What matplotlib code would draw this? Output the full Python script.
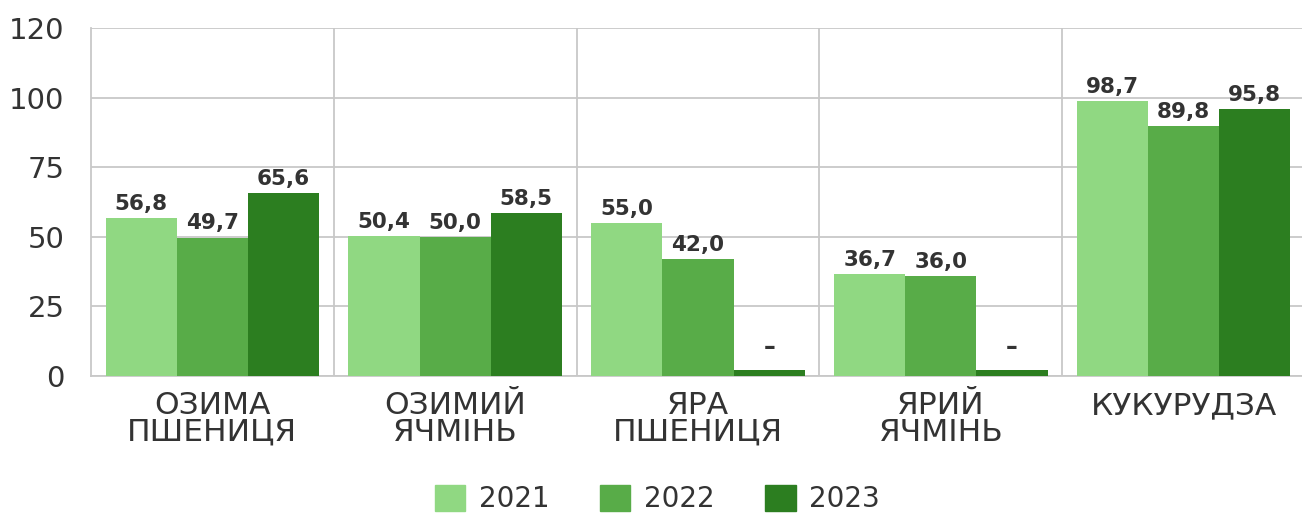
import matplotlib.pyplot as plt
import numpy as np
from matplotlib.patches import Patch

# дані з графіка
categories = ['ОЗИМА\nПШЕНИЦЯ', 'ОЗИМИЙ\nЯЧМІНЬ', 'ЯРА\nПШЕНИЦЯ', 'ЯРИЙ\nЯЧМІНЬ', 'КУКУРУДЗА']
years = ['2021', '2022', '2023']
values_2021 = [56.8, 50.4, 55.0, 36.7, 98.7]
values_2022 = [49.7, 50.0, 42.0, 36.0, 89.8]
values_2023 = [65.6, 58.5, None, None, 95.8]
y_ticks = [0, 25, 50, 75, 100, 125]
y_tick_labels = ['0', '25', '50', '75', '100', '120']

colors = ['#90D882', '#58AC48', '#2C7E20']
stub = 2.0  # висота смужки для відсутніх даних

plt.rcParams['font.family'] = ['DejaVu Sans']

fig = plt.figure(figsize=(13.02, 5.13), dpi=100)
ax = fig.add_axes([91 / 1302, 1 - 376 / 513, (1305 - 91) / 1302, (376 - 28) / 513])

x = np.arange(len(categories))
w = 0.293
series = [values_2021, values_2022, values_2023]
for i, vals in enumerate(series):
    heights = [v if v is not None else stub for v in vals]
    bars = ax.bar(x + (i - 1) * w, heights, width=w, color=colors[i], zorder=3)
    for b, v in zip(bars, vals):
        txt = '–' if v is None else f'{v:.1f}'.replace('.', ',')
        ax.annotate(txt, (b.get_x() + b.get_width() / 2, b.get_height()),
                    xytext=(0, 3 if v is not None else 8), textcoords='offset points',
                    ha='center', va='bottom', fontsize=15.5 if v is not None else 17,
                    fontweight='bold', color='#333333', zorder=4)

ax.set_xlim(-0.5, 4.5)
ax.set_ylim(0, 125)
ax.set_yticks(y_ticks)
ax.set_yticklabels(y_tick_labels)
ax.set_xticks(x)
ax.set_xticklabels(categories, linespacing=0.88)
ax.set_xticks(np.arange(0.5, 4.5, 1), minor=True)

ax.tick_params(axis='both', length=0, colors='#333333')
ax.tick_params(axis='y', pad=19, labelsize=21)
ax.tick_params(axis='x', pad=11, labelsize=22.5)
ax.tick_params(which='minor', length=0)

ax.grid(axis='y', which='major', color='#C8C8C8', linewidth=1.3, zorder=0)
ax.grid(axis='x', which='minor', color='#C8C8C8', linewidth=1.3, zorder=0)
ax.grid(axis='x', which='major', visible=False)

for s in ['top', 'right']:
    ax.spines[s].set_visible(False)
for s in ['left', 'bottom']:
    ax.spines[s].set_color('#C8C8C8')
    ax.spines[s].set_linewidth(1.3)

handles = [Patch(color=c, label=y) for c, y in zip(colors, years)]
fig.legend(handles=handles, loc='center', bbox_to_anchor=(0.505, 1 - 499 / 513), ncol=3,
           frameon=False, fontsize=20, handlelength=1.1, handleheight=1.05,
           handletextpad=0.5, columnspacing=1.8, labelcolor='#333333')

fig.savefig('out.png', dpi=100)
